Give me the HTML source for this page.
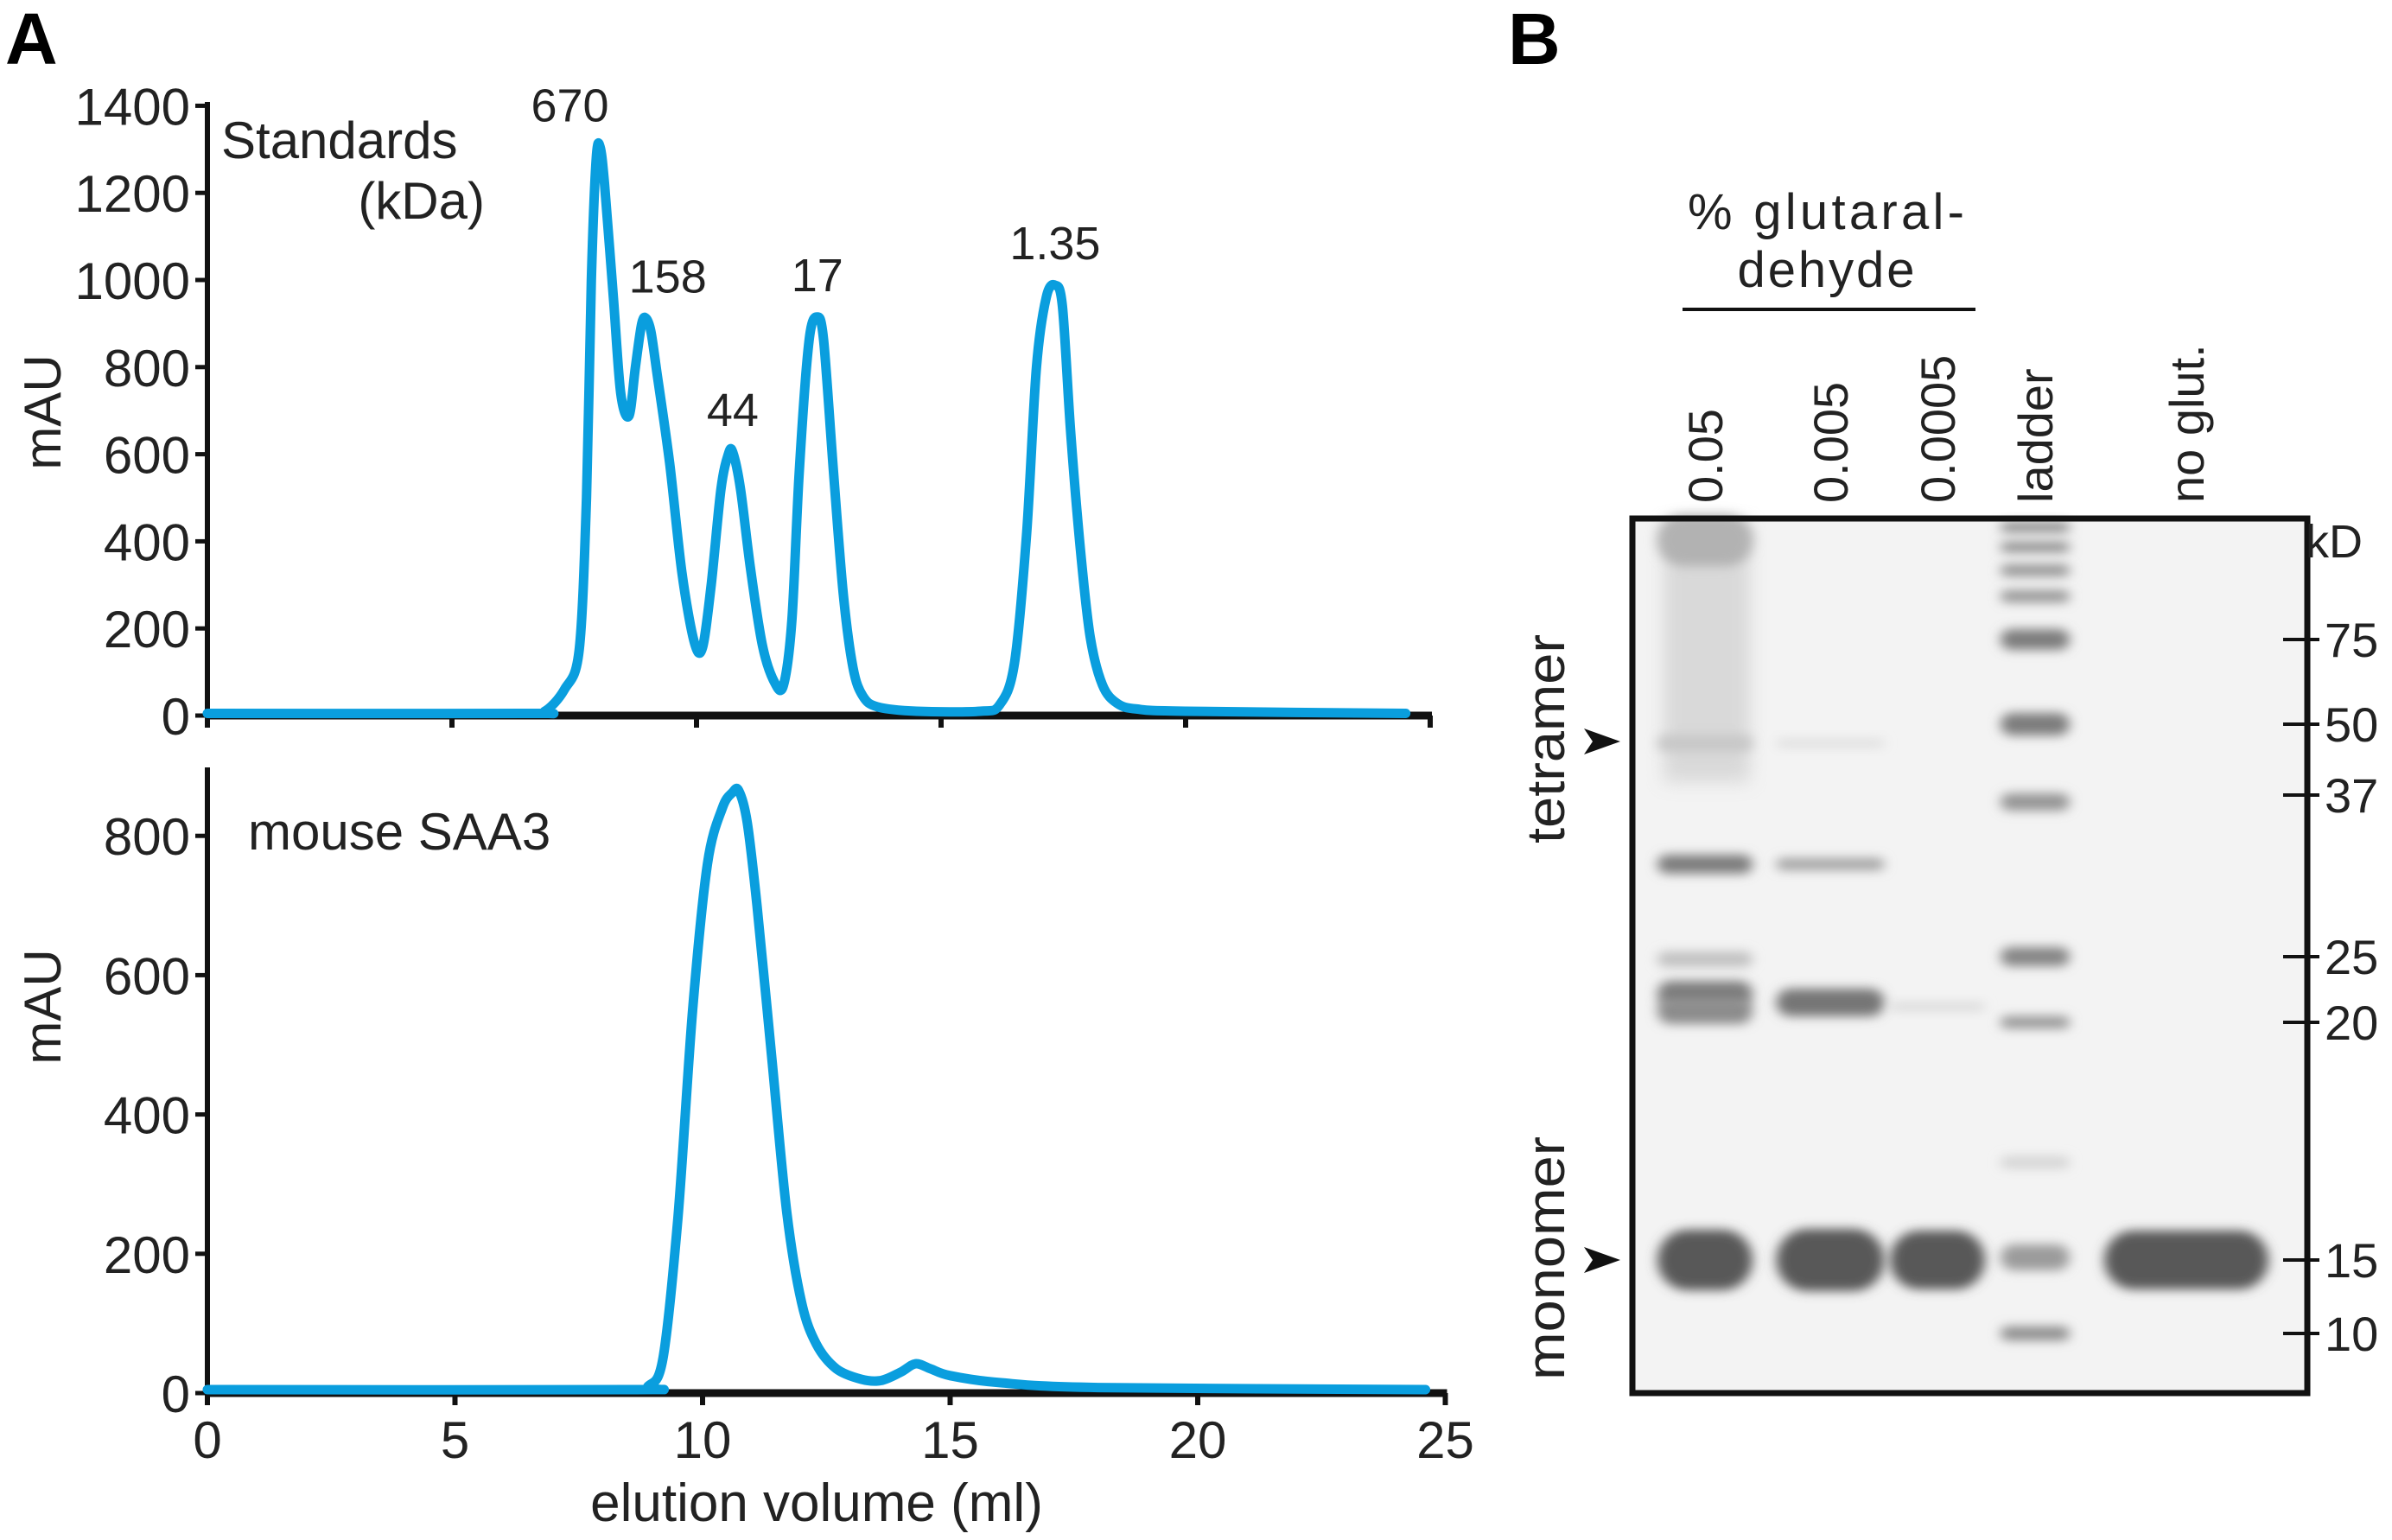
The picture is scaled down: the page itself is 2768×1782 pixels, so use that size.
<!DOCTYPE html>
<html><head><meta charset="utf-8"><style>
html,body{margin:0;padding:0;background:#fff;}
svg{display:block;font-family:"Liberation Sans",sans-serif;}
</style></head><body>
<svg id="fig" width="2768" height="1782" viewBox="0 0 2768 1782">
<defs>
<filter id="blur" x="-20%" y="-100%" width="140%" height="300%"><feGaussianBlur stdDeviation="7 6"/></filter>
<filter id="blur2" x="-20%" y="-100%" width="140%" height="300%"><feGaussianBlur stdDeviation="10 10"/></filter>
</defs>
<text x="6" y="74" font-size="84" font-weight="bold">A</text>
<text x="1745" y="74" font-size="84" font-weight="bold">B</text>
<g id="topchart"></g>
<g id="botchart"></g>
<g id="gel"></g>
</svg>
<script>
// ---------- chart data ----------
const stdX = [0,6.5,6.9,7.3,7.6,7.75,7.85,7.95,8.03,8.12,8.3,8.45,8.62,8.75,8.88,8.97,9.07,9.2,9.45,9.7,9.95,10.12,10.3,10.5,10.65,10.74,10.9,11.1,11.35,11.6,11.78,11.95,12.1,12.3,12.47,12.6,12.8,13.0,13.2,13.4,13.7,14.5,15.8,16.2,16.5,16.75,16.95,17.15,17.33,17.48,17.65,17.85,18.05,18.3,18.6,19.0,20,24.5];
const stdY = [5,5,10,60,150,500,1000,1280,1305,1220,960,740,688,800,900,912,880,780,580,330,170,155,300,520,600,605,520,340,160,75,70,220,560,860,915,860,560,280,110,45,20,10,10,25,120,420,800,960,988,940,650,380,180,70,28,15,10,5];
const stdTicksY = [0,200,400,600,800,1000,1200,1400];
const peakNames = ["670","158","44","17","1.35"];
const peakX = [8.03,8.97,10.74,12.47,17.33];
const peakY = [1305,912,605,915,988];
const saaX = [0,8.5,8.9,9.2,9.5,9.8,10.1,10.4,10.6,10.73,10.9,11.1,11.4,11.7,12.0,12.3,12.7,13.2,13.6,14.0,14.3,14.6,15.0,16,18,24.6];
const saaY = [5,5,10,50,250,550,760,840,862,865,820,700,480,260,130,70,35,20,18,30,42,35,25,15,8,5];
const saaTicksY = [0,200,400,600,800];
const xTicks = [0,5,10,15,20,25];

const NS="http://www.w3.org/2000/svg";
function el(tag,attrs,parent,txt){const e=document.createElementNS(NS,tag);for(const k in attrs)e.setAttribute(k,attrs[k]);if(txt!==undefined)e.textContent=txt;parent.appendChild(e);return e;}
const BLUE="#0a9ede";

function smoothPath(P){
  let d=`M${P[0][0].toFixed(1)},${P[0][1].toFixed(1)}`;
  for(let i=0;i<P.length-1;i++){
    const p0=P[Math.max(0,i-1)],p1=P[i],p2=P[i+1],p3=P[Math.min(P.length-1,i+2)];
    const t=0.16;
    const c1=[p1[0]+(p2[0]-p0[0])*t,p1[1]+(p2[1]-p0[1])*t];
    const c2=[p2[0]-(p3[0]-p1[0])*t,p2[1]-(p3[1]-p1[1])*t];
    d+=` C${c1[0].toFixed(1)},${c1[1].toFixed(1)} ${c2[0].toFixed(1)},${c2[1].toFixed(1)} ${p2[0].toFixed(1)},${p2[1].toFixed(1)}`;
  }
  return d;
}

function drawChart(g,o){
  const sx=v=>o.x0+v*o.kx, sy=v=>o.y0-v*o.ky;
  const ya=el('line',{x1:o.x0,y1:o.yTop,x2:o.x0,y2:o.y0+3,stroke:'#111',"stroke-width":6},g);
  
  
  o.yt.forEach(v=>{
    const t=el('line',{x1:o.x0-14,y1:sy(v),x2:o.x0,y2:sy(v),stroke:'#111',"stroke-width":5},g);
    
    
    const l=el('text',{x:o.x0-20,y:sy(v)+22,"font-size":60,"text-anchor":"end",fill:'#222'},g,String(v));
    
    
  });
  const xa=el('line',{x1:o.x0,y1:o.y0,x2:sx(25)+2,y2:o.y0,stroke:'#111',"stroke-width":9},g);
  
  
  xTicks.forEach(v=>{
    const t=el('line',{x1:sx(v),y1:o.y0,x2:sx(v),y2:o.y0+14,stroke:'#111',"stroke-width":6},g);
    
    
    if(o.xlabels){
      const l=el('text',{x:sx(v),y:o.y0+75,"font-size":60,"text-anchor":"middle",fill:'#222'},g,String(v));
      
      
    }
  });
  const P=o.xs.map((x,i)=>[sx(x),sy(o.ys[i])]);
  const p=el('path',{d:smoothPath(P),fill:'none',stroke:BLUE,"stroke-width":11,"stroke-linejoin":"round","stroke-linecap":"round"},g);
  
  
  const yl=el('text',{x:0,y:0,"font-size":60,"text-anchor":"middle",fill:'#222',transform:`translate(70,${o.ylabY}) rotate(-90)`},g,'mAU');
  
  
  return {sx,sy};
}
const topG=document.getElementById('topchart');
const T=drawChart(topG,{x0:240,kx:56.6,y0:828,ky:0.504,yTop:118,yt:stdTicksY,xs:stdX,ys:stdY,ylabY:477,xlabels:false});
peakNames.forEach((n,i)=>{
  let dx = i===0 ? -35 : (i===1 ? 25 : 0);
  const t=el('text',{x:T.sx(peakX[i])+dx,y:T.sy(peakY[i])-30,"font-size":54,"text-anchor":"middle",fill:'#222'},topG,n);
  
  
});
let t1=el('text',{x:256,y:183,"font-size":60,fill:'#222'},topG,'Standards');


let t2=el('text',{x:561,y:253,"font-size":60,fill:'#222',"text-anchor":"end"},topG,'(kDa)');



const botG=document.getElementById('botchart');
drawChart(botG,{x0:240,kx:57.3,y0:1612,ky:0.806,yTop:888,yt:saaTicksY,xs:saaX,ys:saaY,ylabY:1165,xlabels:true});
let t3=el('text',{x:287,y:983,"font-size":60,fill:'#222'},botG,'mouse SAA3');


let t4=el('text',{x:945,y:1760,"font-size":62,fill:'#222',"text-anchor":"middle"},botG,'elution volume (ml)');



// ---------- gel ----------
const gelG=document.getElementById('gel');
const laneNames=["0.05","0.005","0.0005","ladder","no glut."];
const laneCx=[1973,2118,2242,2355,2530];
const laneW=[110,125,110,80,190];
const mwLabels=["75","50","37","25","20","15","10"];
const mwY=[740,838,920,1107,1183,1458,1543];
const bandLane=[0,0,0,0,0,0,1,1,1,2,0,1,2,4,3,3,3,3,3,3,3,3,3,3,3,3];
const bandY=[625,860,1000,1110,1150,1170,1000,1160,860,1165,1458,1458,1458,1458,610,633,660,690,740,838,928,1107,1183,1345,1455,1543];
const bandH=[60,20,22,18,30,30,14,32,10,10,70,72,68,68,12,12,14,14,24,26,20,22,14,14,30,16];
const bandD=[0.35,0.2,0.7,0.25,0.7,0.6,0.45,0.75,0.05,0.08,0.95,0.95,0.95,0.95,0.6,0.6,0.55,0.55,0.7,0.7,0.55,0.65,0.55,0.12,0.5,0.6];

const bg=el('rect',{x:1889,y:600,width:781,height:1012,fill:'#f3f3f3'},gelG);


const smear=el('rect',{x:1925,y:605,width:100,height:300,fill:'#c8c8c8',opacity:0.6,filter:'url(#blur2)'},gelG);


bandLane.forEach((l,i)=>{
  const w=laneW[l];
  const g=Math.round(230-bandD[i]*150);
  const r=el('rect',{x:laneCx[l]-w/2,y:bandY[i]-bandH[i]/2,width:w,height:bandH[i],rx:bandH[i]/2,fill:`rgb(${g},${g},${g})`,filter:'url(#blur)'},gelG);
  
  
});
const fr=el('rect',{x:1889,y:600,width:781,height:1012,fill:'none',stroke:'#111',"stroke-width":7},gelG);



laneNames.forEach((n,i)=>{
  const t=el('text',{x:0,y:0,"font-size":56,fill:'#222',transform:`translate(${laneCx[i]+20},582) rotate(-90)`},gelG,n);
  
  
});
let g1=el('text',{x:2113,y:265,"font-size":58,fill:'#222',"text-anchor":"middle",textLength:320},gelG,'% glutaral-');


let g2=el('text',{x:2113,y:332,"font-size":58,fill:'#222',"text-anchor":"middle",textLength:205},gelG,'dehyde');


let rl=el('line',{x1:1947,y1:358,x2:2286,y2:358,stroke:'#111',"stroke-width":4},gelG);


let kd=el('text',{x:2668,y:645,"font-size":54,fill:'#222'},gelG,'kD');


mwLabels.forEach((m,i)=>{
  const d=el('line',{x1:2642,y1:mwY[i],x2:2684,y2:mwY[i],stroke:'#111',"stroke-width":4},gelG);
  
  
  const t=el('text',{x:2690,y:mwY[i]+20,"font-size":56,fill:'#222'},gelG,m);
  
  
});
[[858,'tetramer',855,242],[1458,'monomer',1456,282]].forEach(([ay,lab,cy,len])=>{
  const a=el('path',{d:`M1833 ${ay-15} L1875 ${ay} L1833 ${ay+15} L1843 ${ay} Z`,fill:'#111'},gelG);
  
  
  const t=el('text',{x:0,y:0,"font-size":62,fill:'#222',"text-anchor":"middle",textLength:len,lengthAdjust:"spacingAndGlyphs",transform:`translate(1810,${cy}) rotate(-90)`},gelG,lab);
  
  
});
</script>
</body></html>
